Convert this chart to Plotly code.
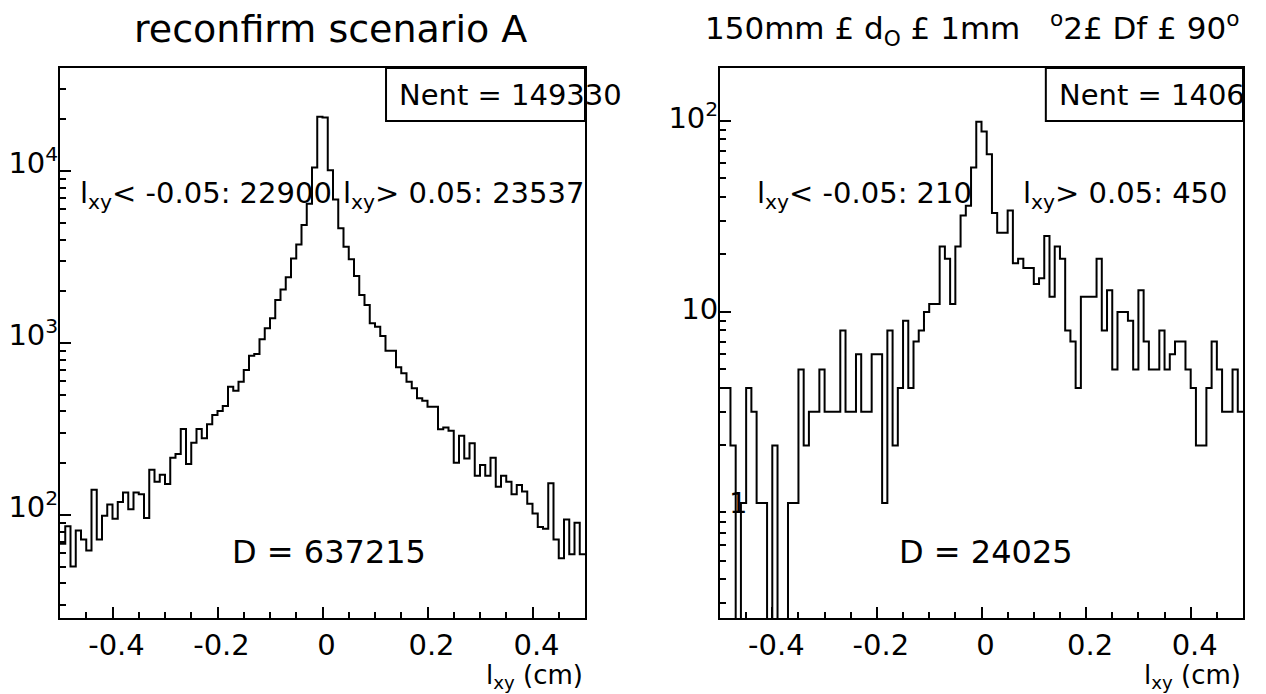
import plotly.graph_objects as go

# ---------------- data ----------------
bin_edges_lo = -0.5
bin_width = 0.01
n_bins = 100

counts_A = [68, 86, 50, 81, 72, 62, 140, 72, 99, 115,
            95, 119, 135, 108, 135, 132, 96, 183, 156, 171,
            151, 215, 226, 316, 198, 263, 316, 279, 337, 381,
            402, 430, 557, 528, 596, 697, 844, 863, 1050, 1217,
            1391, 1778, 2051, 2410, 3107, 3748, 4853, 6450, 10500, 20700,
            20500, 10130, 6845, 4645, 3630, 3067, 2452, 1901, 1663, 1302,
            1245, 1098, 900, 900, 722, 666, 596, 545, 477, 462,
            426, 426, 315, 322, 309, 201, 289, 213, 261, 169,
            195, 169, 215, 146, 169, 156, 132, 149, 137, 116,
            102, 85, 83, 153, 72, 56, 94, 59, 90, 59]

counts_B = [4, 4, 2, 0, 1, 4, 3, 1, 1, 0,
            2, 0, 0, 1, 1, 5, 2, 3, 3, 5,
            3, 3, 3, 8, 3, 3, 6, 3, 3, 6,
            6, 1, 8, 2, 4, 9, 4, 7, 8, 10,
            11, 11, 22, 19, 11, 22, 32, 36, 57, 99,
            88, 67, 33, 26, 26, 34, 18, 19, 17, 17,
            14, 15, 25, 12, 22, 19, 8, 7, 4, 12,
            12, 12, 19, 8, 13, 5, 10, 10, 9, 5,
            13, 7, 5, 5, 8, 5, 6, 7, 7, 5,
            4, 2, 2, 4, 7, 5, 3, 3, 5, 3]

title_A = "reconfirm scenario A"
title_B = "150mm £ d<sub>O</sub> £ 1mm\u00a0\u00a0\u00a0<sup>o</sup>2£ Df £ 90<sup>o</sup>"
nent_A = "Nent = 149330"
nent_B = "Nent = 1406"
low_A = "l<sub>xy</sub>< -0.05: 22900"
high_A = "l<sub>xy</sub>> 0.05: 23537"
low_B = "l<sub>xy</sub>< -0.05: 210"
high_B = "l<sub>xy</sub>> 0.05: 450"
delta_A = "D = 637215"
delta_B = "D = 24025"
xtitle = "l<sub>xy</sub> (cm)"
xtick_vals = [-0.4, -0.2, 0, 0.2, 0.4]
xtick_text = ["-0.4", "-0.2", "0", "0.2", "0.4"]

# ---------------- figure ----------------
FONT = "DejaVu Sans"
W, H = 1266, 694

edges = [bin_edges_lo + bin_width * i for i in range(n_bins + 1)]


def step_xy(counts, floor):
    ys = [c if c > 0 else floor for c in counts]
    return edges, ys + [ys[-1]]


fig = go.Figure()
xa, ya = step_xy(counts_A, 1e-3)
fig.add_trace(go.Scatter(x=xa, y=ya, mode="lines", xaxis="x", yaxis="y",
                         line=dict(shape="hv", color="black", width=2),
                         showlegend=False, hoverinfo="skip"))
xb, yb = step_xy(counts_B, 1e-3)
fig.add_trace(go.Scatter(x=xb, y=yb, mode="lines", xaxis="x2", yaxis="y2",
                         line=dict(shape="hv", color="black", width=2),
                         showlegend=False, hoverinfo="skip"))

ydom = [(H - 618) / H, (H - 68) / H]

common_x = dict(range=[-0.5, 0.5], tickmode="array", tickvals=xtick_vals, ticktext=xtick_text,
                ticks="inside", ticklen=11, tickwidth=2, tickcolor="black",
                minor=dict(tickmode="linear", tick0=0, dtick=0.05, ticks="inside",
                           ticklen=6, tickwidth=2, tickcolor="black"),
                showline=True, linewidth=2, linecolor="black", mirror=True,
                showgrid=False, zeroline=False, automargin=False,
                tickfont=dict(family=FONT, size=29, color="black"),
                ticklabelstandoff=0, ticklabelshift=4)

minor_log = [m * 10 ** d for d in range(-1, 5) for m in range(2, 10)]
common_y = dict(type="log", ticks="inside", ticklen=11, tickwidth=2, tickcolor="black",
                minor=dict(tickmode="array", tickvals=minor_log, ticks="inside",
                           ticklen=6, tickwidth=2, tickcolor="black"),
                showline=True, linewidth=2, linecolor="black", mirror=True,
                showgrid=False, zeroline=False, domain=ydom, automargin=False,
                tickfont=dict(family=FONT, size=29, color="black"), ticklabelstandoff=-6)

fig.update_layout(
    width=W, height=H, margin=dict(l=0, r=0, t=0, b=0),
    paper_bgcolor="white", plot_bgcolor="white",
    xaxis=dict(domain=[60 / W, 585 / W], anchor="y", **common_x),
    xaxis2=dict(domain=[720 / W, 1243 / W], anchor="y2", **common_x),
    yaxis=dict(anchor="x", range=[1.4, 4.6], tickmode="array",
               tickvals=[100, 1000, 10000], ticklabelshift=-8,
               ticktext=["10<sup>2</sup>", "10<sup>3</sup>", "10<sup>4</sup>"], **common_y),
    yaxis2=dict(anchor="x2", range=[-0.602, 2.277], tickmode="array",
                tickvals=[10, 100], ticklabelshift=-3,
                ticktext=["10", "10<sup>2</sup>"], **common_y),
)


def ann(text, x, y, xref, yref, size, xanchor="left", yanchor="middle"):
    fig.add_annotation(text=text, x=x, y=y, xref=xref, yref=yref, showarrow=False,
                       xanchor=xanchor, yanchor=yanchor,
                       font=dict(family=FONT, size=size, color="black"))


# titles
ann(title_A, 330 / W, (H - 29) / H, "paper", "paper", 38, xanchor="center")
ann(title_B, 972 / W, (H - 29) / H, "paper", "paper", 31, xanchor="center")

# stat boxes
for xr, yr, x0, txt, tx in [("x domain", "y domain", 0.621, nent_A, 0.642),
                            ("x2 domain", "y2 domain", 0.623, nent_B, 0.644)]:
    fig.add_shape(type="rect", xref=xr, yref=yr, x0=x0, x1=1.0, y0=0.9036, y1=1.0,
                  line=dict(color="black", width=2), fillcolor="rgba(0,0,0,0)")
    ann(txt, tx, 0.951, xr, yr, 29)

# counts text
ann(low_A, 0.034, 0.77, "x domain", "y domain", 29)
ann(high_A, 0.536, 0.77, "x domain", "y domain", 29)
ann(low_B, 0.067, 0.77, "x2 domain", "y2 domain", 29)
ann(high_B, 0.576, 0.77, "x2 domain", "y2 domain", 29)

# delta text
ann(delta_A, 0.324, 0.12, "x domain", "y domain", 32)
ann(delta_B, 0.338, 0.12, "x2 domain", "y2 domain", 32)

# "1" label on the right log axis
ann("1", 0.034, 0, "x2 domain", "y2", 29, xanchor="center")

# axis titles
ann(xtitle, 1.0, -0.14, "x domain", "y domain", 26, xanchor="right", yanchor="bottom")
ann(xtitle, 1.0, -0.14, "x2 domain", "y2 domain", 26, xanchor="right", yanchor="bottom")

fig.write_html("out.html")
